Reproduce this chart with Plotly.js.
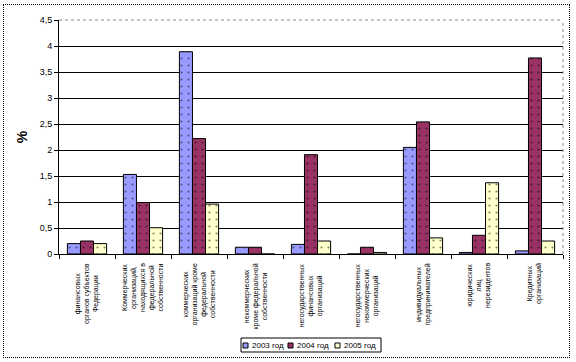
<!DOCTYPE html>
<html>
<head>
<meta charset="utf-8">
<script src="https://cdn.plot.ly/plotly-3.0.1.min.js"></script>
<style>
html,body{margin:0;padding:0;background:#fff;}
#wrap{position:relative;width:576px;height:362px;}
#chart{width:576px;height:362px;}
#frame{position:absolute;left:3px;top:4px;width:565px;height:352px;border:1px dotted #000;pointer-events:none;}
</style>
</head>
<body>
<div id="wrap"><div id="chart"></div><div id="frame"></div></div>
<script>
var categories = [
  "финансовых<br>органов субъектов<br>Федерации",
  "Коммерческих<br>организаций,<br>находящихся в<br>федеральной<br>собственности",
  "коммерческих<br>организаций кроме<br>федеральной<br>собственности",
  "некоммерческих<br>кроме федеральной<br>собственности",
  "негосударственных<br>финансовых<br>организаций",
  "негосударственных<br>некоммерческих<br>организаций",
  "индивидуальных<br>предпринимателей",
  "юридических<br>лиц<br>нерезидентов",
  "Кредитных<br>организаций"
];
var seriesNames = ["2003 год", "2004 год", "2005 год"];
var values2003 = [0.20, 1.53, 3.89, 0.13, 0.185, 0, 2.05, 0.03, 0.06];
var values2004 = [0.25, 0.99, 2.22, 0.13, 1.91, 0.13, 2.54, 0.36, 3.77];
var values2005 = [0.20, 0.505, 0.96, 0, 0.25, 0.03, 0.31, 1.37, 0.25];
var yTicks = [0, 0.5, 1, 1.5, 2, 2.5, 3, 3.5, 4, 4.5];

var colors = ["#9999FF", "#993366", "#FFFFCC"];
var dotColors = ["#55558a", "#4a1830", "#8a8a6a"];
var allValues = [values2003, values2004, values2005];

var traces = allValues.map(function(v, i){
  return {
    type: "bar",
    name: seriesNames[i],
    x: categories.map(function(c, k){ return k; }),
    y: v,
    marker: {
      color: colors[i],
      line: {color: "#000", width: 1},
      pattern: {shape: ".", size: 7, solidity: 0.08, fgcolor: dotColors[i], bgcolor: colors[i], fillmode: "replace"}
    },
    hoverinfo: "none"
  };
});

var annotations = categories.map(function(c, k){
  return {
    xref: "x", yref: "paper", x: k, y: -0.032,
    xanchor: "center", yanchor: "top",
    text: c, textangle: -90, align: "center", showarrow: false,
    font: {family: "Liberation Sans, Arial, sans-serif", size: 7, color: "#000"}
  };
});

// Compact legend (paper coordinates, plot area 504x234 px)
var shapes = [
  {type: "line", xref: "paper", yref: "paper", x0: 0, x1: 1, y0: 1, y1: 1, line: {color: "#fff", width: 1}},
  {type: "line", xref: "paper", yref: "paper", x0: 0, x1: 1, y0: 1, y1: 1, line: {color: "#888", width: 1, dash: "dot"}},
  {type: "line", xref: "paper", yref: "paper", x0: 1, x1: 1, y0: 0, y1: 1, line: {color: "#888", width: 1, dash: "dot"}},
  {type: "rect", xref: "paper", yref: "paper", x0: (241-59)/504, x1: (381-59)/504, y0: (254-352)/234, y1: (254-338)/234,
   line: {color: "#000", width: 1}, fillcolor: "#fff"}
];
var legendStarts = [243, 288, 335];
seriesNames.forEach(function(n, i){
  var sx = legendStarts[i];
  shapes.push({type: "rect", xref: "paper", yref: "paper",
    x0: (sx-59)/504, x1: (sx+5-59)/504, y0: (254-348)/234, y1: (254-343)/234,
    line: {color: "#000", width: 1}, fillcolor: colors[i]});
  annotations.push({xref: "paper", yref: "paper", x: (sx+7-59)/504, y: (254-345.5)/234,
    xanchor: "left", yanchor: "middle", text: n, showarrow: false,
    font: {family: "Liberation Sans, Arial, sans-serif", size: 8, color: "#000"}});
});

var layout = {
  width: 576, height: 362,
  margin: {l: 59, r: 13, t: 20, b: 108},
  paper_bgcolor: "#fff", plot_bgcolor: "#fff",
  separators: ", ",
  barmode: "group", bargap: 0.3, bargroupgap: 0,
  font: {family: "Liberation Sans, Arial, sans-serif", size: 9, color: "#000"},
  xaxis: {
    type: "linear", range: [-0.5, 8.5],
    showticklabels: false, showgrid: false, zeroline: false,
    showline: true, linecolor: "#000", linewidth: 1,
    ticks: "outside", ticklen: 4, tickcolor: "#000",
    tickvals: [-0.5, 0.5, 1.5, 2.5, 3.5, 4.5, 5.5, 6.5, 7.5, 8.5]
  },
  yaxis: {
    range: [0, 4.5], tickvals: yTicks,
    showgrid: true, gridcolor: "#000", gridwidth: 1, zeroline: false,
    showline: true, linecolor: "#000", linewidth: 1,
    ticks: "outside", ticklen: 4, tickcolor: "#000",
    tickfont: {size: 9},
    title: {text: "<b>%</b>", font: {size: 14}, standoff: 8}
  },
  showlegend: false,
  annotations: annotations,
  shapes: shapes
};

Plotly.newPlot("chart", traces, layout, {staticPlot: true, displayModeBar: false});
</script>
</body>
</html>
